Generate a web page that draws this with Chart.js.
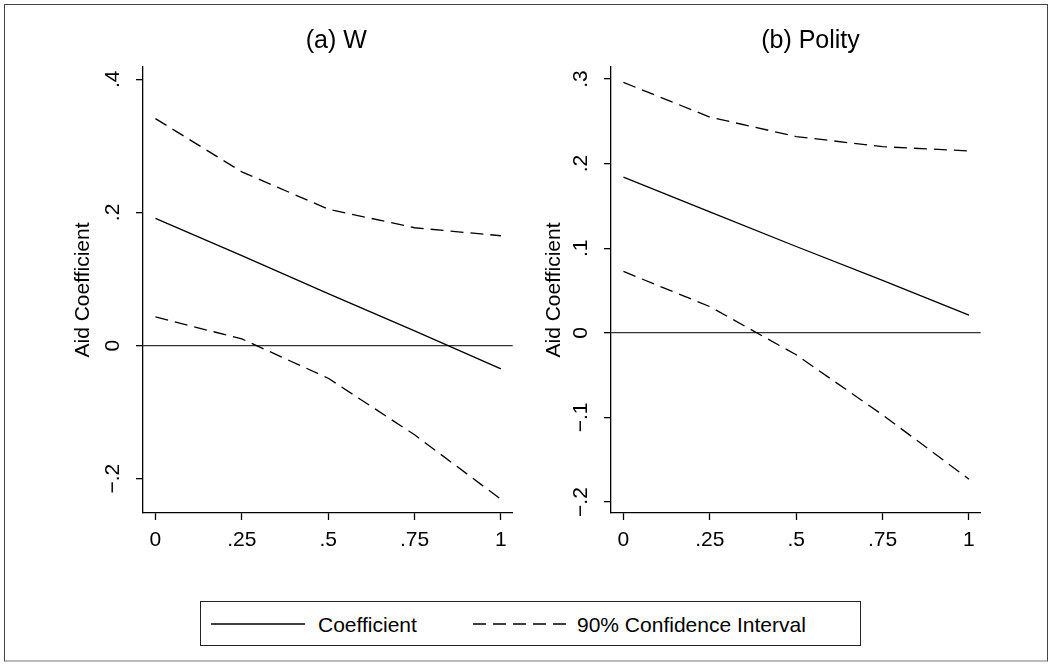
<!DOCTYPE html>
<html>
<head>
<meta charset="utf-8">
<script src="https://cdn.jsdelivr.net/npm/chart.js@4"></script>
<style>
  html, body { margin: 0; padding: 0; background: #fff; }
  body { width: 1049px; height: 664px; position: relative; overflow: hidden;
         font-family: "Liberation Sans", Arial, sans-serif; }
  .frame { position: absolute; left: 4px; top: 4px; width: 1044px; height: 658px; box-sizing: border-box;
           border: 1.5px solid #444; border-bottom: 2px solid #bbb; }
  canvas { position: absolute; top: 0; }
  #chartW { left: 0; }
  #chartP { left: 530px; }
  .legend { position: absolute; left: 200px; top: 601px; width: 661px; height: 45px; box-sizing: border-box;
            border: 1.5px solid #222; background: #fff; }
  .legend svg, .legend span { position: absolute; top: 50%; transform: translateY(-50%); }
  .legend span { font-size: 21px; color: #000; white-space: nowrap; line-height: 1; }
</style>
</head>
<body>
<div class="frame"></div>
<canvas id="chartW" width="530" height="590"></canvas>
<canvas id="chartP" width="519" height="590"></canvas>
<div class="legend">
  <svg style="left:10px" width="94" height="4"><line x1="0" y1="2" x2="94" y2="2" stroke="#000" stroke-width="1.3"/></svg>
  <span id="legCoef" style="left:117px"></span>
  <svg style="left:272px" width="94" height="4"><line x1="0" y1="2" x2="94" y2="2" stroke="#000" stroke-width="1.3" stroke-dasharray="13 7"/></svg>
  <span id="legCI" style="left:376px"></span>
</div>
<script>
// --- data ---
const xValues = [0, 0.25, 0.5, 0.75, 1];
const xTicks = [0, 0.25, 0.5, 0.75, 1];
const xTickLabels = ['0', '.25', '.5', '.75', '1'];

// panel (a) W
const wCoef  = [0.191, 0.135, 0.078, 0.022, -0.035];
const wUpper = [0.341, 0.261, 0.205, 0.177, 0.165];
const wLower = [0.043, 0.010, -0.049, -0.134, -0.231];
const wTicks = [-0.2, 0, 0.2, 0.4];
const wTickLabels = ['\u2212.2', '0', '.2', '.4'];

// panel (b) Polity
const pCoef  = [0.184, 0.143, 0.102, 0.062, 0.021];
const pUpper = [0.296, 0.255, 0.232, 0.220, 0.215];
const pLower = [0.0725, 0.031, -0.026, -0.097, -0.173];
const pTicks = [-0.2, -0.1, 0, 0.1, 0.2, 0.3];
const pTickLabels = ['\u2212.2', '\u2212.1', '0', '.1', '.2', '.3'];

const seriesNames = ['Coefficient', '90% Confidence Interval'];
const yAxisTitle = 'Aid Coefficient';
const panelTitles = ['(a) W', '(b) Polity'];

document.getElementById('legCoef').textContent = seriesNames[0];
document.getElementById('legCI').textContent = seriesNames[1];

const FONT = '"Liberation Sans", Arial, sans-serif';

// draws the panel heading, Stata centres it over the whole panel rather than the plot
const panelTitle = {
    id: 'panelTitle',
    afterDraw(chart, args, opts) {
        const ctx = chart.ctx;
        ctx.save();
        ctx.font = '25px ' + FONT;
        ctx.fillStyle = '#000';
        ctx.textAlign = 'center';
        ctx.textBaseline = 'alphabetic';
        ctx.fillText(opts.text, opts.x, opts.y);
        ctx.restore();
    }
};

function toPoints(ys) {
    return xValues.map((x, i) => ({ x, y: ys[i] }));
}

function makePanel(id, cfg) {
    const line = (data, dashed) => ({
        data: toPoints(data),
        borderColor: '#000',
        borderWidth: 1.3,
        borderDash: dashed ? [13, 7] : [],
        pointRadius: 0,
        tension: 0,
        fill: false
    });

    return new Chart(document.getElementById(id), {
        type: 'line',
        data: {
            datasets: [
                line(cfg.upper, true),
                line(cfg.lower, true),
                line(cfg.coef, false)
            ]
        },
        plugins: [panelTitle],
        options: {
            responsive: false,
            animation: false,
            devicePixelRatio: 1,
            layout: { padding: { left: 0, top: 67, right: cfg.padRight, bottom: 27 } },
            plugins: {
                legend: { display: false },
                tooltip: { enabled: false },
                panelTitle: { text: cfg.title, x: cfg.titleX, y: 48.3 }
            },
            scales: {
                x: {
                    type: 'linear',
                    min: -0.036,
                    max: 1.034,
                    afterBuildTicks: s => { s.ticks = xTicks.map(v => ({ value: v })); },
                    afterFit: s => { s.height = 50; },
                    border: { display: true, color: '#000', width: 1.3 },
                    grid: { drawOnChartArea: false, tickLength: 7, tickColor: '#000', tickWidth: 1.3 },
                    ticks: {
                        autoSkip: false,
                        maxRotation: 0,
                        padding: 8,
                        color: '#000',
                        font: { family: FONT, size: 21 },
                        callback: v => xTickLabels[xTicks.indexOf(v)]
                    }
                },
                y: {
                    min: cfg.yMin,
                    max: cfg.yMax,
                    afterBuildTicks: s => { s.ticks = cfg.ticks.map(v => ({ value: v })); },
                    afterFit: s => { s.width = cfg.axisWidth; },
                    border: { display: true, color: '#000', width: 1.3 },
                    grid: {
                        drawOnChartArea: true,
                        color: c => (c.tick && c.tick.value === 0) ? '#333' : 'rgba(0,0,0,0)',
                        lineWidth: 1.3,
                        tickLength: 7,
                        tickColor: '#000',
                        tickWidth: 1.3
                    },
                    ticks: {
                        autoSkip: false,
                        minRotation: 90,
                        maxRotation: 90,
                        crossAlign: 'center',
                        padding: 7.5,
                        color: '#000',
                        font: { family: FONT, size: 21 },
                        callback: v => cfg.tickLabels[cfg.ticks.indexOf(v)]
                    },
                    title: {
                        display: true,
                        text: yAxisTitle,
                        color: '#000',
                        font: { family: FONT, size: 21 },
                        padding: { top: cfg.yTitlePad, bottom: 0 }
                    }
                }
            }
        }
    });
}

makePanel('chartW', {
    title: panelTitles[0], titleX: 336.3,
    coef: wCoef, upper: wUpper, lower: wLower,
    yMin: -0.2515, yMax: 0.4185,
    ticks: wTicks, tickLabels: wTickLabels,
    axisWidth: 143, padRight: 17.3, yTitlePad: 70.8
});

makePanel('chartP', {
    title: panelTitles[1], titleX: 280.5,
    coef: pCoef, upper: pUpper, lower: pLower,
    yMin: -0.213, yMax: 0.3142,
    ticks: pTicks, tickLabels: pTickLabels,
    axisWidth: 81, padRight: 68.3, yTitlePad: 11.8
});
</script>
</body>
</html>
